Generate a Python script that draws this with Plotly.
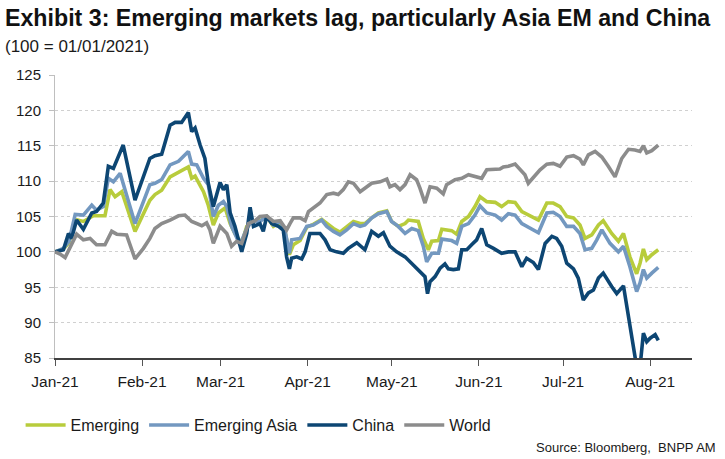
import pandas as pd
import plotly.graph_objects as go

# x values are days elapsed since 2021-01-01
BASE_DATE = "2021-01-01"

china_days = [0, 3.0, 4.8, 5.9, 7.7, 10.1, 13.1, 14.8, 17.2, 19.0,
              20.8, 24.3, 28.5, 33.8, 35.6, 38.0, 41.0, 42.8, 45.1, 46.3,
              47.5, 48.7, 49.9, 51.7, 53.4, 54.6, 56.4, 57.6, 58.8, 60.0,
              61.2, 62.4, 64.1, 66.5, 68.3, 69.5, 70.7, 73.0, 74.2, 75.4,
              77.2, 79.6, 81.3, 82.5, 83.5, 84.3, 86.1, 87.9, 89.1, 90.8,
              92.6, 94.4, 96.2, 98.0, 100.3, 102.7, 104.5, 107.5, 110.4, 112.8,
              115.2, 117.0, 119.3, 121.7, 124.7, 127.1, 130.0, 131.8, 132.7, 133.6,
              135.4, 137.2, 138.9, 140.1, 141.9, 143.7, 144.9, 146.7, 148.4, 150.2,
              152.0, 153.8, 156.2, 159.1, 161.5, 163.9, 166.3, 168.0, 170.4, 172.2,
              174.6, 177.0, 178.7, 180.5, 182.3, 184.7, 186.4, 188.2, 190.0, 191.8,
              193.6, 195.3, 198.3, 200.1, 202.5, 204.8, 206.9, 208.6, 209.6, 210.8,
              212.0, 213.8, 214.9]
china_vals = [100.0, 100.3, 102.6, 101.9, 104.5, 103.2, 105.5, 105.7, 106.9, 112.1,
              111.8, 115.1, 107.3, 113.2, 113.6, 113.8, 117.9, 118.3, 118.3, 119.0,
              119.7, 117.0, 117.5, 115.1, 113.2, 109.7, 106.4, 108.1, 109.8, 108.8,
              109.5, 105.5, 103.6, 100.0, 102.6, 106.3, 103.6, 104.0, 102.9, 105.0,
              104.0, 103.6, 103.1, 99.3, 97.6, 99.1, 99.3, 99.0, 100.0, 102.6,
              102.6, 102.6, 101.7, 100.3, 100.0, 99.8, 100.5, 101.3, 100.3, 102.9,
              102.2, 102.7, 100.8, 100.0, 99.3, 98.4, 97.2, 96.5, 94.1, 95.8,
              96.5, 97.7, 98.3, 97.6, 97.5, 97.6, 100.3, 100.3, 101.0, 101.7,
              103.3, 101.0, 100.5, 99.8, 100.0, 100.0, 97.9, 99.1, 98.5, 97.5,
              101.2, 102.2, 101.9, 100.8, 98.4, 97.6, 96.3, 93.2, 94.2, 94.6,
              96.3, 97.0, 95.1, 94.1, 95.2, 89.5, 84.5, 84.5, 88.5, 87.3,
              87.8, 88.3, 87.5]

asia_days = [0, 3.0, 5.0, 7.2, 10.1, 13.1, 14.8, 17.2, 19.0, 20.8,
             23.2, 28.5, 33.8, 35.6, 38.0, 41.0, 44.0, 45.7, 47.5, 48.7,
             50.5, 52.9, 54.6, 56.4, 58.2, 60.0, 61.2, 62.9, 65.9, 68.3,
             70.1, 73.0, 75.4, 77.8, 80.2, 81.9, 83.5, 84.3, 87.3, 89.7,
             92.0, 95.0, 96.8, 99.2, 101.5, 103.9, 106.3, 108.7, 110.4, 112.8,
             115.2, 118.2, 119.9, 122.3, 124.7, 127.1, 129.4, 131.2, 132.4, 134.2,
             136.6, 137.8, 141.3, 143.1, 144.9, 147.3, 149.6, 151.4, 153.8, 156.8,
             159.1, 161.5, 163.9, 166.3, 169.2, 172.2, 175.2, 177.5, 179.9, 182.3,
             184.7, 187.0, 188.8, 191.2, 193.0, 194.8, 197.7, 200.7, 202.5, 204.8,
             207.2, 208.4, 209.6, 210.8, 212.6, 214.9]
asia_vals = [100.0, 100.5, 101.5, 105.3, 105.2, 106.6, 105.9, 106.4, 110.4, 109.9,
             111.1, 104.0, 109.5, 109.7, 110.2, 112.3, 112.8, 113.4, 114.2, 112.4,
             112.3, 110.4, 109.5, 105.0, 106.6, 107.1, 106.4, 103.6, 101.0, 103.3,
             104.3, 104.3, 105.0, 103.8, 104.3, 103.1, 99.8, 101.7, 101.9, 103.6,
             103.8, 104.5, 103.6, 102.9, 102.4, 103.1, 104.0, 103.6, 103.8, 104.8,
             105.4, 105.7, 104.3, 103.6, 102.6, 103.3, 103.0, 100.8, 98.6, 99.8,
             99.8, 101.8, 101.6, 101.2, 103.6, 104.0, 105.2, 106.5, 105.5, 105.2,
             104.5, 105.4, 105.2, 104.0, 103.3, 102.7, 105.5, 105.6, 105.0, 103.6,
             103.6, 102.6, 100.3, 100.5, 101.7, 103.1, 101.2, 100.0, 100.8, 97.9,
             94.4, 95.6, 97.5, 96.3, 97.0, 97.8]

em_days = [0, 3.0, 5.0, 7.2, 10.1, 13.7, 17.8, 19.6, 21.4, 23.8,
           28.5, 33.8, 35.6, 38.0, 41.0, 44.0, 47.5, 48.7, 49.9, 52.9,
           54.6, 56.4, 58.2, 60.6, 62.4, 64.1, 66.5, 68.3, 70.1, 73.0,
           75.4, 77.8, 80.2, 81.9, 83.5, 84.9, 87.3, 89.7, 92.0, 95.0,
           96.8, 99.2, 101.5, 103.9, 106.3, 108.7, 110.4, 112.8, 115.2, 118.2,
           119.9, 122.3, 124.7, 125.9, 129.4, 131.2, 133.0, 134.2, 136.6, 137.8,
           141.3, 143.1, 144.9, 147.3, 149.6, 151.4, 153.8, 156.8, 159.1, 161.5,
           163.9, 166.3, 169.2, 172.2, 175.2, 177.5, 179.9, 182.3, 184.7, 187.0,
           188.8, 191.2, 193.6, 195.3, 198.3, 200.7, 202.5, 204.8, 207.2, 208.4,
           209.6, 210.8, 212.6, 214.9]
em_vals = [100.0, 100.4, 101.3, 104.6, 104.3, 105.1, 105.1, 108.8, 107.8, 108.5,
           102.9, 107.3, 108.1, 108.7, 110.6, 111.2, 112.0, 110.4, 110.7, 108.5,
           106.6, 103.8, 105.5, 106.2, 104.0, 102.6, 101.2, 103.6, 104.3, 104.4,
           105.0, 103.6, 104.2, 103.0, 99.6, 101.0, 101.6, 103.5, 103.9, 104.6,
           104.0, 103.3, 102.8, 103.6, 104.3, 104.0, 104.0, 104.8, 105.5, 105.8,
           104.3, 103.6, 104.0, 104.5, 104.3, 101.9, 100.3, 101.5, 101.6, 103.2,
           103.0, 102.5, 104.3, 105.0, 106.4, 107.8, 107.1, 107.0, 106.4, 107.1,
           107.0, 105.7, 105.1, 104.5, 106.9, 106.9, 106.4, 105.0, 104.8, 103.8,
           101.9, 102.4, 103.8, 104.4, 102.6, 101.5, 102.6, 99.3, 96.9, 98.4,
           100.4, 98.9, 99.6, 100.3]

world_days = [0, 1.8, 3.6, 5.3, 7.7, 10.1, 12.5, 14.8, 17.8, 20.2,
              22.0, 25.5, 27.3, 28.5, 31.5, 33.8, 35.6, 38.0, 41.0, 44.0,
              46.3, 48.7, 52.3, 54.0, 55.2, 56.4, 58.8, 61.2, 62.9, 64.7,
              66.5, 68.9, 71.3, 73.0, 75.4, 77.8, 80.2, 82.5, 83.7, 84.9,
              87.3, 89.1, 90.3, 92.0, 94.4, 96.8, 99.2, 100.9, 102.7, 104.5,
              106.3, 108.7, 110.4, 112.8, 115.8, 118.2, 119.3, 121.1, 122.9, 124.7,
              126.5, 128.8, 130.0, 131.8, 133.6, 136.0, 138.3, 139.5, 142.5, 144.9,
              147.3, 150.2, 152.0, 153.8, 156.2, 158.5, 159.7, 161.5, 163.9, 165.7,
              167.4, 168.6, 170.4, 172.8, 175.2, 177.5, 179.9, 182.3, 184.7, 187.0,
              188.2, 190.0, 192.4, 194.8, 197.1, 199.5, 201.9, 204.3, 206.6, 208.4,
              209.6, 210.8, 212.6, 214.9]
world_vals = [100.0, 99.7, 99.2, 100.5, 102.5, 101.7, 101.9, 101.0, 101.0, 102.9,
              102.5, 102.4, 100.3, 99.0, 100.5, 101.9, 103.3, 104.0, 104.5, 105.1,
              105.2, 104.3, 103.7, 104.1, 103.1, 101.2, 103.6, 102.6, 100.8, 101.5,
              101.2, 104.0, 104.4, 105.0, 105.1, 104.3, 104.4, 103.1, 104.0, 104.8,
              104.8, 104.4, 105.7, 106.2, 106.9, 108.1, 108.3, 108.1, 108.8, 109.9,
              109.7, 108.5, 109.0, 109.7, 109.9, 110.3, 109.2, 109.5, 108.8, 109.5,
              110.9, 110.2, 109.0, 106.9, 109.2, 109.0, 108.2, 109.5, 110.2, 110.4,
              110.9, 110.6, 110.4, 111.6, 111.6, 111.7, 112.0, 112.1, 112.4, 111.7,
              110.9, 109.7, 110.5, 111.6, 112.4, 112.5, 112.1, 113.4, 113.6, 113.1,
              112.3, 113.7, 114.2, 113.4, 112.1, 110.6, 113.2, 114.5, 114.4, 114.2,
              115.0, 114.0, 114.3, 115.1]

series_names = ["Emerging", "Emerging Asia", "China", "World"]
series_colors = ["#b8cc3c", "#7398c0", "#0d4673", "#8c8c8c"]
y_ticks = [85, 90, 95, 100, 105, 110, 115, 120, 125]

title_text = "Exhibit 3: Emerging markets lag, particularly Asia EM and China"
subtitle_text = "(100 = 01/01/2021)"
source_text = "Source: Bloomberg,  BNPP AM"

FONT = "Liberation Sans, Arial, sans-serif"


def to_dates(days):
    return pd.Timestamp(BASE_DATE) + pd.to_timedelta(days, unit="D")


series = [
    (em_days, em_vals),
    (asia_days, asia_vals),
    (china_days, china_vals),
    (world_days, world_vals),
]

fig = go.Figure()
for (d, v), name, color in zip(series, series_names, series_colors):
    assert len(d) == len(v), name
    fig.add_trace(go.Scatter(
        x=to_dates(d), y=v, mode="lines", name=name,
        line=dict(color=color, width=3.6),
    ))

fig.update_layout(
    width=725, height=459,
    margin=dict(l=55, r=33, t=75, b=101, autoexpand=False),
    paper_bgcolor="white", plot_bgcolor="white",
    font=dict(family=FONT, size=16, color="#1a1a1a"),
    showlegend=True,
    legend=dict(
        orientation="h", x=-0.054, y=-0.237, xanchor="left", yanchor="middle",
        font=dict(size=16, color="#1a1a1a"), bgcolor="rgba(0,0,0,0)",
        itemwidth=40, tracegroupgap=0,
    ),
    annotations=[
        dict(text="<b>" + title_text + "</b>", xref="paper", yref="paper",
             x=-0.082, y=1.2, xanchor="left", yanchor="middle",
             showarrow=False, font=dict(size=23.2, color="#111111")),
        dict(text=subtitle_text, xref="paper", yref="paper",
             x=-0.082, y=1.1, xanchor="left", yanchor="middle",
             showarrow=False, font=dict(size=17, color="#1a1a1a")),
        dict(text=source_text, xref="paper", yref="paper",
             x=1.0408, y=-0.3145, xanchor="right", yanchor="middle",
             showarrow=False, font=dict(size=13, color="#1a1a1a")),
    ],
)

fig.update_xaxes(
    range=["2021-01-01", "2021-08-15 22:00"],
    type="date", dtick="M1", tick0="2021-01-01", tickformat="%b-%y",
    ticks="outside", ticklen=6, tickwidth=1, tickcolor="#555555",
    showline=True, linecolor="#404040", linewidth=1.5,
    showgrid=False, zeroline=False,
    tickfont=dict(size=15.5, color="#1a1a1a"),
    ticklabelstandoff=3,
)
fig.update_yaxes(
    range=[85, 125], tickvals=y_ticks,
    ticks="outside", ticklen=5, tickwidth=1, tickcolor="#bfbfbf",
    showline=True, linecolor="#bfbfbf", linewidth=1,
    showgrid=True, gridcolor="#d0d0d0", gridwidth=1, griddash="dot",
    zeroline=False,
    tickfont=dict(size=15, color="#1a1a1a"),
    ticklabelstandoff=5,
)

# remove the browser's default page margin so the figure sits at (0, 0)
fig.write_html("out.html", config={"displayModeBar": False},
               post_script="document.body.style.margin='0';")
